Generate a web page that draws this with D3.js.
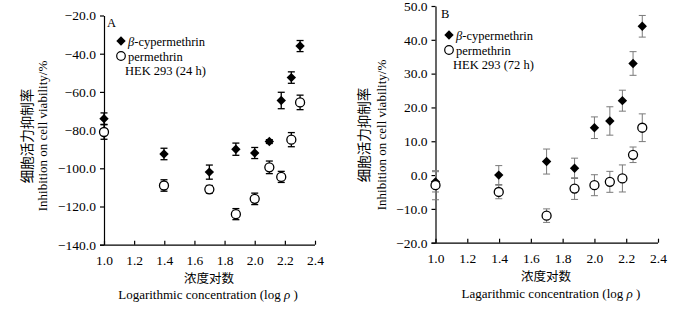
<!DOCTYPE html>
<html>
<head>
<meta charset="utf-8">
<script src="https://cdn.jsdelivr.net/npm/d3@7"></script>
<style>
  body { margin: 0; background: #fff; }
  svg { font-family: "Liberation Serif", "Times New Roman", "Noto Sans CJK SC", serif; }
</style>
</head>
<body>
<div id="container"></div>
<script>
// log of concentration, shared by both panels
let logConc = [1.0, 1.398, 1.699, 1.875, 2.0, 2.097, 2.176, 2.243, 2.301];
let xTicks = [1.0, 1.2, 1.4, 1.6, 1.8, 2.0, 2.2, 2.4];

// panel A, 24 h
let cypA = [-74, -92.5, -102, -90, -92, -86, -64.5, -52.5, -36];
let cypAErr = [3, 3, 3.7, 3.2, 2.9, 1, 4.3, 3, 2.9];
let perA = [-81, -109, -111, -124, -116, -99.5, -104.5, -85, -65.5];
let perAErr = [3.8, 3, 2, 2.9, 3, 3.3, 2.9, 3.7, 3.8];
let yTicksA = [-140, -120, -100, -80, -60, -40, -20];

// panel B, 72 h
let cypB = [-2, 0, 4, 2, 14, 16, 22, 33, 44];
let cypBErr = [3, 2.8, 3.7, 3, 3.2, 4.2, 3.1, 3.5, 3.2];
let perB = [-3, -5, -12, -4, -3, -2, -1, 6, 14];
let perBErr = [4.3, 2, 2, 3.2, 3.1, 3.1, 4, 2.3, 4.1];
let yTicksB = [-20, -10, 0, 10, 20, 30, 40, 50];

let w = 687;
let h = 312;

let viz = d3.select("#container")
  .append("svg")
    .attr("width", w)
    .attr("height", h)
    .style("background-color", "white");

function drawPanel(opt){
  let xScale = d3.scaleLinear().domain([1, 2.4]).range([opt.x0, opt.x1]);
  let yScale = d3.scaleLinear().domain(opt.yDomain).range([opt.y0, opt.y1]);
  let g = viz.append("g");

  // x axis, ticks pointing up into the plot
  let xAxis = d3.axisBottom(xScale)
    .tickValues(xTicks)
    .tickFormat(d3.format(".1f"))
    .tickSizeInner(-4)
    .tickSizeOuter(0)
    .tickPadding(11);
  let xg = g.append("g")
    .attr("transform", "translate(0," + opt.y0 + ")")
    .call(xAxis);
  xg.select(".domain").attr("d", "M" + (opt.x0 - 4) + ",0.5H" + opt.x1);

  let yAxis = d3.axisLeft(yScale)
    .tickValues(opt.yTicks)
    .tickFormat(d3.format(".1f"))
    .tickSizeInner(4)
    .tickSizeOuter(0)
    .tickPadding(4);
  let yg = g.append("g")
    .attr("transform", "translate(" + opt.x0 + ",0)")
    .call(yAxis);

  g.selectAll(".domain, .tick line").attr("stroke", "#000").attr("stroke-width", 1.2);
  g.selectAll(".tick text")
    .attr("fill", "#000")
    .attr("font-size", "13.5px")
    .attr("font-family", "Liberation Serif");

  // axis titles
  g.append("text")
    .attr("x", opt.cnX).attr("y", opt.cnY)
    .attr("text-anchor", "middle")
    .attr("font-family", "Noto Sans CJK SC")
    .attr("font-size", "12.5px")
    .text("浓度对数");
  let xl = g.append("text")
    .attr("x", opt.enX).attr("y", opt.enY)
    .attr("text-anchor", "middle")
    .attr("font-size", "13px")
    .text(opt.xLabel + " (log ");
  xl.append("tspan").attr("font-style", "italic").text("ρ");
  xl.append("tspan").text(" )");

  g.append("text")
    .attr("transform", "translate(" + opt.ycnX + "," + opt.yMid + ") rotate(-90)")
    .attr("text-anchor", "middle")
    .attr("font-family", "Noto Sans CJK SC")
    .attr("font-size", "13.5px")
    .text("细胞活力抑制率");
  g.append("text")
    .attr("transform", "translate(" + opt.yenX + "," + opt.yMid + ") rotate(-90)")
    .attr("text-anchor", "middle")
    .attr("font-size", "13px")
    .text("Inhibition on cell viability/%");

  // panel letter and legend
  g.append("text")
    .attr("x", opt.letterX).attr("y", opt.letterY)
    .attr("font-size", "12.5px")
    .text(opt.letter);

  let lx = opt.legX, ly = opt.legY;
  g.append("path")
    .attr("d", d3.symbol(d3.symbolSquare, 44)())
    .attr("transform", "translate(" + lx + "," + ly + ") rotate(45)")
    .attr("fill", "#000");
  let t1 = g.append("text").attr("x", lx + 7).attr("y", ly + 4.5).attr("font-size", "12.5px");
  t1.append("tspan").attr("font-style", "italic").text("β");
  t1.append("tspan").text("-cypermethrin");
  g.append("circle")
    .attr("cx", lx).attr("cy", ly + 15).attr("r", 4.3)
    .attr("fill", "#fff").attr("stroke", "#000").attr("stroke-width", 1.2);
  g.append("text").attr("x", lx + 7).attr("y", ly + 19.5)
    .attr("font-size", "12.5px").text("permethrin");
  g.append("text").attr("x", lx + 4).attr("y", ly + 34)
    .attr("font-size", "12.5px").text(opt.cellLabel);

  // error bars then markers
  function errBars(vals, errs){
    let eb = g.append("g").attr("stroke", opt.errColor).attr("stroke-width", opt.errWidth);
    vals.forEach(function(v, i){
      let x = xScale(logConc[i]);
      let yt = yScale(v + errs[i]);
      let yb = yScale(v - errs[i]);
      eb.append("line").attr("x1", x).attr("x2", x).attr("y1", yt).attr("y2", yb);
      eb.append("line").attr("x1", x - 3.5).attr("x2", x + 3.5).attr("y1", yt).attr("y2", yt);
      eb.append("line").attr("x1", x - 3.5).attr("x2", x + 3.5).attr("y1", yb).attr("y2", yb);
    });
  }
  errBars(opt.cyp, opt.cypErr);
  errBars(opt.per, opt.perErr);

  g.selectAll(".cyp").data(opt.cyp).enter()
    .append("path")
      .attr("class", "cyp")
      .attr("d", d3.symbol(d3.symbolSquare, 44)())
      .attr("transform", function(d, i){
        return "translate(" + xScale(logConc[i]) + "," + yScale(d) + ") rotate(45)";
      })
      .attr("fill", "#000");

  g.selectAll(".per").data(opt.per).enter()
    .append("circle")
      .attr("class", "per")
      .attr("cx", function(d, i){ return xScale(logConc[i]); })
      .attr("cy", function(d){ return yScale(d); })
      .attr("r", 4.5)
      .attr("fill", "#fff")
      .attr("stroke", "#000")
      .attr("stroke-width", 1.3);
}

drawPanel({
  x0: 104, x1: 315, y0: 244.7, y1: 15.5, yDomain: [-140, -20], yTicks: yTicksA,
  cyp: cypA, cypErr: cypAErr, per: perA, perErr: perAErr,
  errColor: "#000", errWidth: 1.3,
  cnX: 209, cnY: 283, enX: 208, enY: 299, xLabel: "Logarithmic concentration",
  ycnX: 32, yenX: 47, yMid: 136,
  letter: "A", letterX: 107, letterY: 27,
  legX: 121, legY: 41, cellLabel: "HEK 293 (24 h)"
});

drawPanel({
  x0: 435.5, x1: 658, y0: 242.7, y1: 6, yDomain: [-20, 50], yTicks: yTicksB,
  cyp: cypB, cypErr: cypBErr, per: perB, perErr: perBErr,
  errColor: "#7a7a7a", errWidth: 1,
  cnX: 546, cnY: 281, enX: 551, enY: 297.5, xLabel: "Lagarithmic concentration",
  ycnX: 368.5, yenX: 386, yMid: 135,
  letter: "B", letterX: 441, letterY: 18,
  legX: 449, legY: 35, cellLabel: "HEK 293 (72 h)"
});
</script>
</body>
</html>
